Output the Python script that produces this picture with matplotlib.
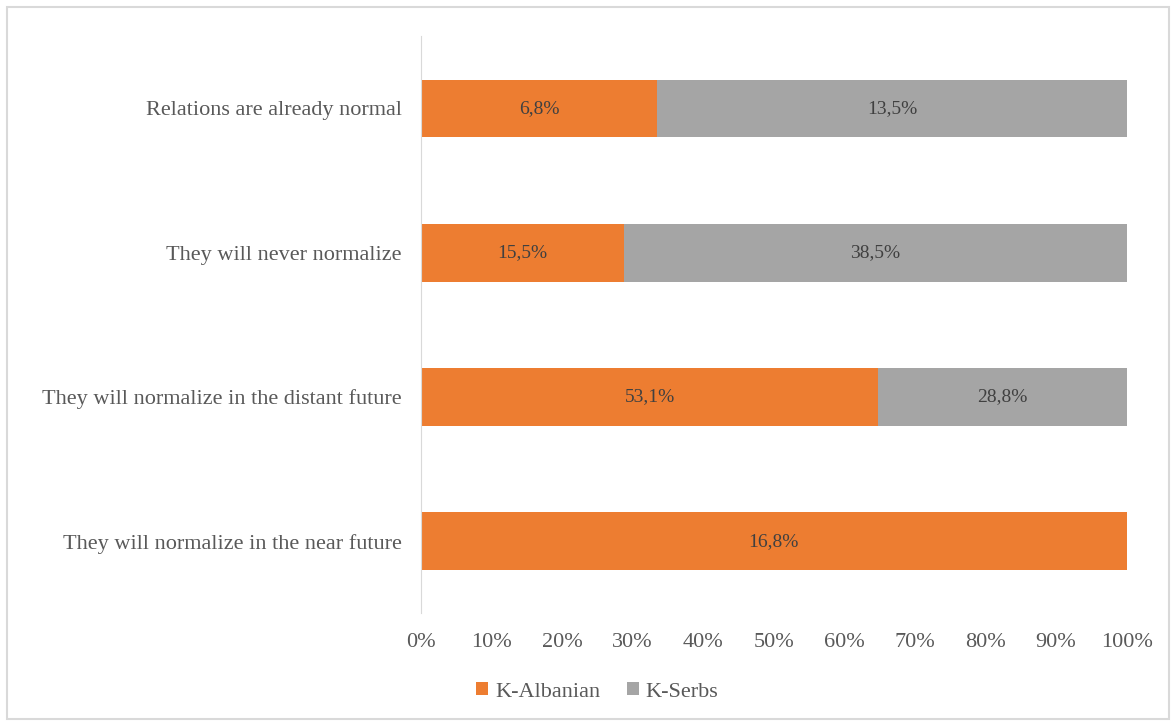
import numpy as np
import matplotlib.pyplot as plt
from matplotlib.patches import Rectangle

plt.rcParams['font.family'] = ['Liberation Serif', 'DejaVu Serif']

categories = ['They will normalize in the near future',
              'They will normalize in the distant future',
              'They will never normalize',
              'Relations are already normal']
albanian = np.array([16.8, 53.1, 15.5, 6.8])
serbs = np.array([0.0, 28.8, 38.5, 13.5])
ticks = [0, 10, 20, 30, 40, 50, 60, 70, 80, 90, 100]

orange = '#ed7d31'
grey = '#a5a5a5'
text_col = '#595959'

total = albanian + serbs
alb_pct = albanian / total * 100
srb_pct = serbs / total * 100

fig = plt.figure(figsize=(11.76, 7.26), dpi=100)
ax = fig.add_axes([0.358, 0.155, 0.600, 0.795])

y = np.arange(len(categories))
ax.barh(y, alb_pct, height=0.4, color=orange, label='K-Albanian')
ax.barh(y, srb_pct, left=alb_pct, height=0.4, color=grey, label='K-Serbs')

for i in range(len(categories)):
    ax.text(alb_pct[i] / 2, y[i], f'{albanian[i]:.1f}%'.replace('.', ','),
            ha='center', va='center', fontsize=14, color='#404040')
    if serbs[i] > 0:
        ax.text(alb_pct[i] + srb_pct[i] / 2, y[i], f'{serbs[i]:.1f}%'.replace('.', ','),
                ha='center', va='center', fontsize=14, color='#404040')

ax.set_xlim(0, 100)
ax.set_ylim(-0.5, 3.5)
ax.set_xticks(ticks)
ax.set_xticklabels([f'{t}%' for t in ticks])
ax.set_yticks(y)
ax.set_yticklabels(categories)
ax.tick_params(axis='both', length=0, colors=text_col, labelsize=16)
ax.tick_params(axis='x', pad=14)
ax.tick_params(axis='y', pad=14)

for s in ['top', 'right', 'bottom']:
    ax.spines[s].set_visible(False)
ax.spines['left'].set_color('#d9d9d9')

leg = fig.legend(loc='center', bbox_to_anchor=(0.508, 0.047), ncol=2, frameon=False,
                 fontsize=16, handlelength=0.55, handleheight=0.55, handletextpad=0.3,
                 columnspacing=1.2)
for t in leg.get_texts():
    t.set_color(text_col)

fig.patches.append(Rectangle((0.006, 0.01), 0.988, 0.98, transform=fig.transFigure,
                             fill=False, edgecolor='#d9d9d9', linewidth=1.5))

fig.savefig('out.png', dpi=100)
